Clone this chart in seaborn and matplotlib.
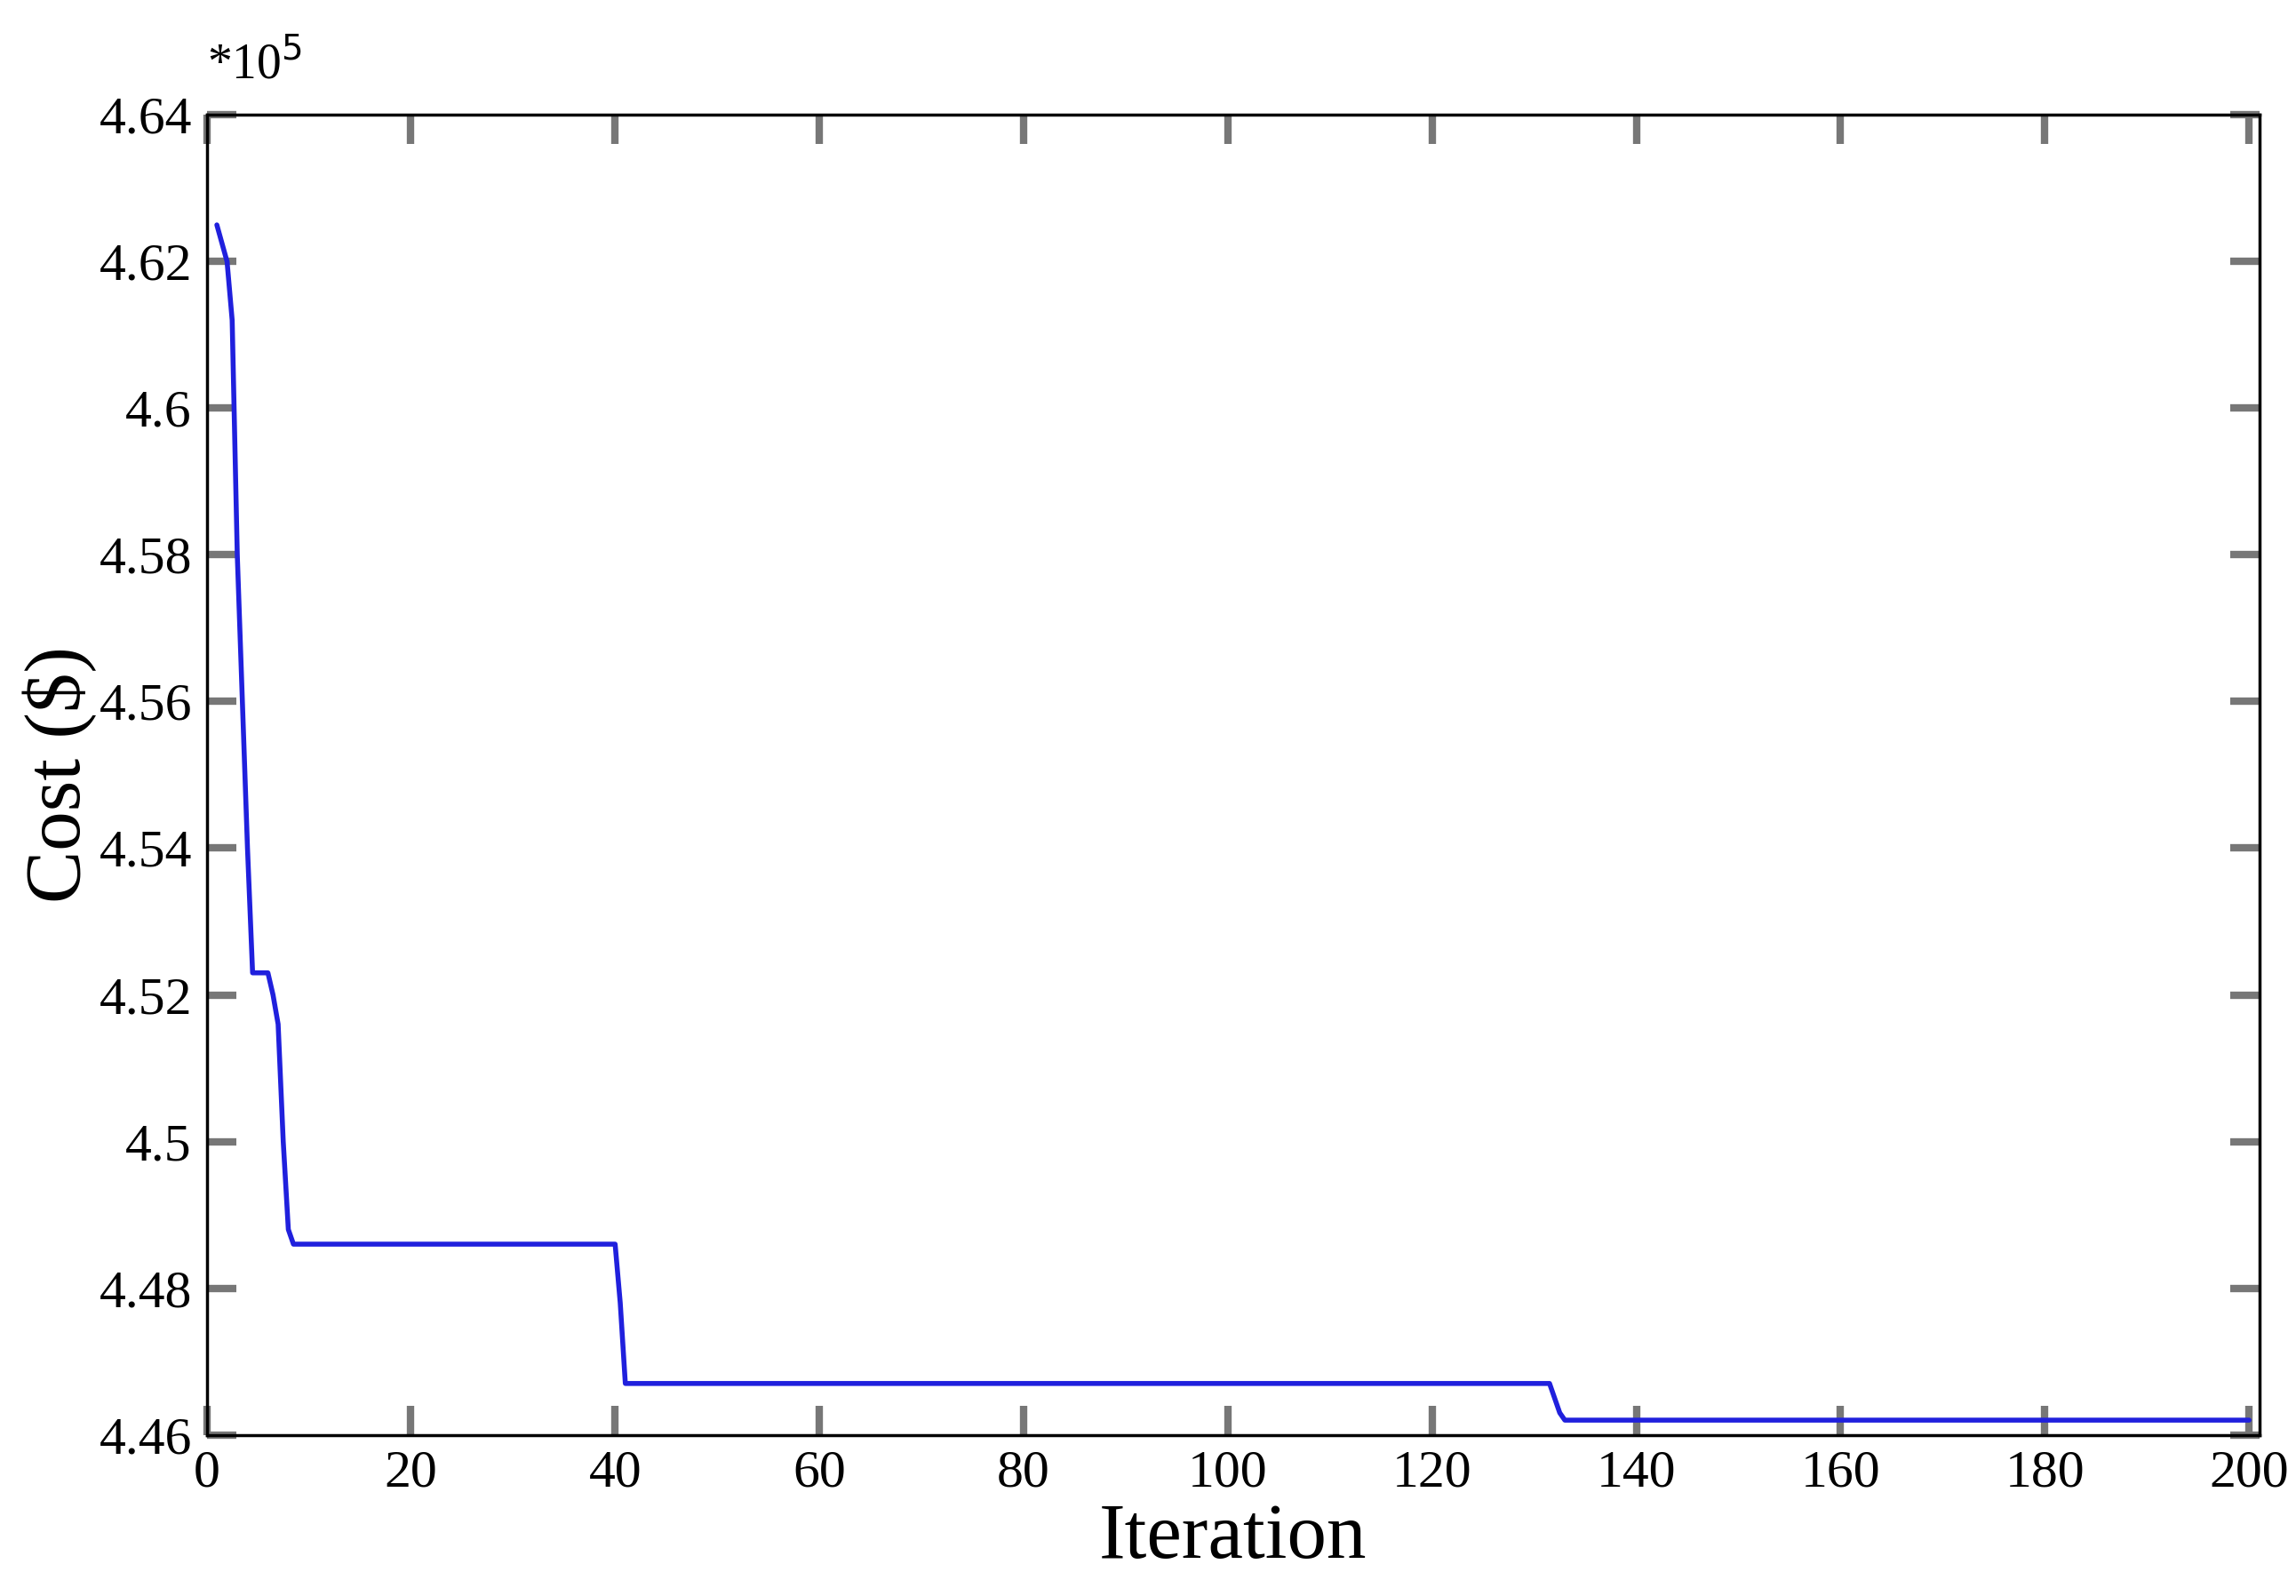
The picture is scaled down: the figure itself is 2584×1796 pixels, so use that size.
import matplotlib
matplotlib.use("Agg")
import matplotlib.pyplot as plt
import seaborn as sns
import pandas as pd

# Convergence curve (cost in units of 1e5 $)
iteration = [1, 2, 2.5, 3, 4, 4.5, 5, 6, 6.5, 7, 7.5, 8, 8.5, 10, 20, 30, 40, 40.5, 41,
             60, 80, 100, 120, 131.5, 132.5, 133, 150, 170, 190, 200]
cost = [4.625, 4.620, 4.612, 4.580, 4.540, 4.523, 4.523, 4.523, 4.520, 4.516, 4.500,
        4.488, 4.486, 4.486, 4.486, 4.486, 4.486, 4.478, 4.467,
        4.467, 4.467, 4.467, 4.467, 4.467, 4.463, 4.462, 4.462, 4.462, 4.462, 4.462]

x_ticks = list(range(0, 201, 20))
y_ticks = [4.46, 4.48, 4.50, 4.52, 4.54, 4.56, 4.58, 4.60, 4.62, 4.64]
y_labels = ["4.46", "4.48", "4.5", "4.52", "4.54", "4.56", "4.58", "4.6", "4.62", "4.64"]

df = pd.DataFrame({"Iteration": iteration, "Cost": cost})

sns.set_style("white")
plt.rcParams["font.family"] = ["Liberation Serif", "DejaVu Serif"]
plt.rcParams["text.color"] = "black"
plt.rcParams["axes.labelcolor"] = "black"

fig = plt.figure(figsize=(25.84, 17.96), dpi=100)
ax = fig.add_axes([0.09, 0.101, 0.894, 0.827])

sns.lineplot(data=df, x="Iteration", y="Cost", ax=ax, color="#2020dd", linewidth=4)

ax.set_xlim(0, 201)
ax.set_ylim(4.46, 4.64)
ax.set_xticks(x_ticks)
ax.set_yticks(y_ticks)
ax.set_yticklabels(y_labels)
ax.tick_params(axis="both", which="both", direction="in", length=24, width=6,
               color="#777777", top=True, right=True, bottom=True, left=True,
               labelsize=43, labelcolor="black", pad=12)
for side in ax.spines.values():
    side.set_color("black")
    side.set_linewidth(2.5)

ax.set_xlabel("Iteration", fontsize=64, labelpad=4)
ax.set_ylabel("Cost ($)", fontsize=64, labelpad=2)
ax.text(0.0, 1.02, r"*10$^5$", transform=ax.transAxes, fontsize=40, ha="left", va="bottom")

fig.savefig("out.png", dpi=100)
